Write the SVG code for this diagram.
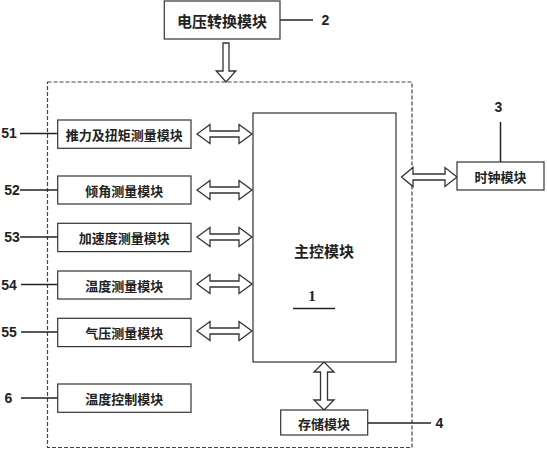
<svg xmlns="http://www.w3.org/2000/svg" width="547" height="450" viewBox="0 0 547 450">
<style>
.box{fill:#fff;stroke:#333;stroke-width:1.2}
.arr{fill:#fff;stroke:#333;stroke-width:1.3;stroke-linejoin:miter}
.ln{stroke:#222;stroke-width:1.5;fill:none}
.t{font-family:"Noto Sans CJK SC","Noto Sans CJK JP",sans-serif;font-weight:bold;font-size:13px;fill:#222;text-anchor:middle;dominant-baseline:central}
.n{font-family:"Liberation Sans",Arial,sans-serif;font-weight:bold;font-size:14px;fill:#222;text-anchor:middle;dominant-baseline:central}
</style>
<rect width="547" height="450" fill="#fff"/>
<g id="system">
<rect x="47.5" y="82" width="364.5" height="365.5" fill="none" stroke="#444" stroke-width="1.2" stroke-dasharray="4,2"/>
</g>
<g id="connectors">
<path class="arr" d="M223 43 L229 43 L229 71 L235.8 71 L226 82 L216.2 71 L223 71 Z"/>
<path class="arr" d="M197 134 L210 124.5 L210 131 L239 131 L239 124.5 L252 134 L239 143.5 L239 137 L210 137 L210 143.5 Z"/>
<path class="arr" d="M197 190 L210 180.5 L210 187 L239 187 L239 180.5 L252 190 L239 199.5 L239 193 L210 193 L210 199.5 Z"/>
<path class="arr" d="M197 237 L210 227.5 L210 234 L239 234 L239 227.5 L252 237 L239 246.5 L239 240 L210 240 L210 246.5 Z"/>
<path class="arr" d="M197 284 L210 274.5 L210 281 L239 281 L239 274.5 L252 284 L239 293.5 L239 287 L210 287 L210 293.5 Z"/>
<path class="arr" d="M197 331 L210 321.5 L210 328 L239 328 L239 321.5 L252 331 L239 340.5 L239 334 L210 334 L210 340.5 Z"/>
<path class="arr" d="M401.5 177 L413 167.5 L413 174 L445 174 L445 167.5 L457 177 L445 186.5 L445 180 L413 180 L413 186.5 Z"/>
<path class="arr" d="M324 362 L334 372 L327.5 372 L327.5 400 L334 400 L324 410 L314 400 L320.5 400 L320.5 372 L314 372 Z"/>
<line class="ln" x1="280" y1="20" x2="313" y2="20"/>
<line class="ln" x1="20" y1="133.5" x2="58" y2="133.5"/>
<line class="ln" x1="20" y1="190" x2="58" y2="190"/>
<line class="ln" x1="20" y1="237" x2="58" y2="237"/>
<line class="ln" x1="21" y1="284.5" x2="58" y2="284.5"/>
<line class="ln" x1="21" y1="332" x2="58" y2="332"/>
<line class="ln" x1="21" y1="398" x2="58" y2="398"/>
<line class="ln" x1="500.5" y1="122" x2="500.5" y2="162"/>
<line class="ln" x1="368" y1="423" x2="431" y2="423"/>
</g>
<g id="n2">
<rect class="box" x="164.3" y="1" width="115.7" height="38"/>
<text class="t" x="222" y="20" style="font-size:15px">电压转换模块</text>
<text class="n" x="325.5" y="20">2</text>
</g>
<g id="n1">
<rect class="box" x="253" y="113" width="143" height="249"/>
<text class="t" x="324" y="250" style="font-size:15px">主控模块</text>
<text class="n" x="312" y="296" style="font-family:'Liberation Serif',serif;font-size:15px">1</text>
<line class="ln" x1="293" y1="308.5" x2="335" y2="308.5"/>
</g>
<g id="n51">
<rect class="box" x="57.7" y="120" width="133.3" height="28.3"/>
<text class="t" x="124.3" y="134">推力及扭矩测量模块</text>
<text class="n" x="9" y="133">51</text>
</g>
<g id="n52">
<rect class="box" x="57.7" y="176" width="133.3" height="28"/>
<text class="t" x="124.3" y="190">倾角测量模块</text>
<text class="n" x="12" y="190">52</text>
</g>
<g id="n53">
<rect class="box" x="57.7" y="223.3" width="133.3" height="28.3"/>
<text class="t" x="124.3" y="237.5">加速度测量模块</text>
<text class="n" x="12" y="237">53</text>
</g>
<g id="n54">
<rect class="box" x="57.7" y="271" width="133.3" height="28"/>
<text class="t" x="124.3" y="285">温度测量模块</text>
<text class="n" x="9" y="284.5">54</text>
</g>
<g id="n55">
<rect class="box" x="57.7" y="318.3" width="133.3" height="28.3"/>
<text class="t" x="124.3" y="332.5">气压测量模块</text>
<text class="n" x="9" y="332">55</text>
</g>
<g id="n6">
<rect class="box" x="57.7" y="384" width="133.3" height="28.3"/>
<text class="t" x="124.3" y="398">温度控制模块</text>
<text class="n" x="8.5" y="398">6</text>
</g>
<g id="n3">
<rect class="box" x="457" y="162" width="87" height="28"/>
<text class="t" x="500.5" y="176">时钟模块</text>
<text class="n" x="498.5" y="107">3</text>
</g>
<g id="n4">
<rect class="box" x="280.7" y="410" width="87" height="25"/>
<text class="t" x="324" y="423">存储模块</text>
<text class="n" x="439.5" y="423">4</text>
</g>
</svg>
